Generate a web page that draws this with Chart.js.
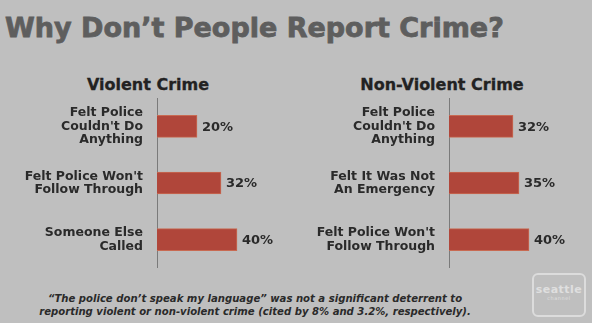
<!DOCTYPE html>
<html>
<head>
<meta charset="utf-8">
<script src="https://cdn.jsdelivr.net/npm/chart.js@4.4.0/dist/chart.umd.min.js"></script>
<style>
  html, body { margin:0; padding:0; }
  body { width:592px; height:323px; background:#bfbfbf; position:relative; overflow:hidden; font-family:"DejaVu Sans", sans-serif; }
  .abs { position:absolute; }
  #title { left:5px; top:10px; font-weight:bold; font-size:27px; color:#5e5e5e; white-space:nowrap; line-height:36px; -webkit-text-stroke:0.8px #5e5e5e; }
  .sub { font-weight:bold; font-size:16px; color:#222; white-space:nowrap; transform:translateX(-50%); line-height:20px; -webkit-text-stroke:0.3px #222; }
  #note { left:0; width:510px; top:292px; text-align:center; font-weight:bold; font-style:italic; font-size:10.1px; color:#2a2a2a; line-height:13px; white-space:nowrap; }
  #logo { left:532px; top:273px; width:50px; height:40px; border:2px solid rgba(255,255,255,0.45); border-radius:6px; text-align:center; color:rgba(255,255,255,0.5); }
  #logo .a { font-size:11px; font-weight:bold; margin-top:9px; line-height:11px; letter-spacing:0.5px; }
  #logo .b { font-size:5px; line-height:7px; letter-spacing:0.5px; }
</style>
</head>
<body>
<div id="title" class="abs">Why Don’t People Report Crime?</div>
<div class="abs sub" style="left:148px; top:75px;">Violent Crime</div>
<div class="abs sub" style="left:442px; top:75px;">Non-Violent Crime</div>
<div class="abs" style="left:0; top:98px; width:297px; height:170px;"><canvas id="c1"></canvas></div>
<div class="abs" style="left:300px; top:98px; width:289px; height:170px;"><canvas id="c2"></canvas></div>
<div id="note" class="abs">“The police don’t speak my language” was not a significant deterrent to<br>reporting violent or non-violent crime (cited by 8% and 3.2%, respectively).</div>
<div id="logo" class="abs"><div class="a">seattle</div><div class="b">channel</div></div>
<script>
const violentCategories = [["Felt Police","Couldn't Do","Anything"], ["Felt Police Won't","Follow Through"], ["Someone Else","Called"]];
const violentValues = [20, 32, 40];
const nonViolentCategories = [["Felt Police","Couldn't Do","Anything"], ["Felt It Was Not","An Emergency"], ["Felt Police Won't","Follow Through"]];
const nonViolentValues = [32, 35, 40];

const valueLabels = {
  id: 'valueLabels',
  afterDatasetsDraw(chart) {
    const ctx = chart.ctx;
    ctx.save();
    ctx.font = 'bold 13px "DejaVu Sans"';
    ctx.fillStyle = '#2a2a2a';
    ctx.textBaseline = 'middle';
    ctx.textAlign = 'left';
    const meta = chart.getDatasetMeta(0);
    meta.data.forEach((bar, i) => {
      ctx.fillText(chart.data.datasets[0].data[i] + '%', bar.x + 5, bar.y + 1);
    });
    ctx.restore();
  }
};

function makeChart(id, cats, vals, axisWidth) {
  return new Chart(document.getElementById(id), {
    type: 'bar',
    data: {
      labels: cats,
      datasets: [{
        data: vals,
        backgroundColor: '#b0463a',
        borderColor: '#c86a52',
        borderWidth: 1,
        barThickness: 22
      }]
    },
    options: {
      indexAxis: 'y',
      responsive: true,
      maintainAspectRatio: false,
      animation: false,
      layout: { padding: 0 },
      plugins: { legend: { display: false }, tooltip: { enabled: false } },
      scales: {
        x: { display: false, min: 0, max: 70 },
        y: {
          afterFit(scale) { scale.width = axisWidth; scale.paddingTop = 0; scale.paddingBottom = 0; },
          grid: { display: false, drawTicks: false },
          border: { display: true, color: '#7a7a7a', width: 1 },
          ticks: {
            padding: 14,
            color: '#2a2a2a',
            font: { family: 'DejaVu Sans', weight: 'bold', size: 12.5, lineHeight: 1.07 }
          }
        }
      }
    },
    plugins: [valueLabels]
  });
}
makeChart('c1', violentCategories, violentValues, 157);
makeChart('c2', nonViolentCategories, nonViolentValues, 149);
</script>
</body>
</html>
